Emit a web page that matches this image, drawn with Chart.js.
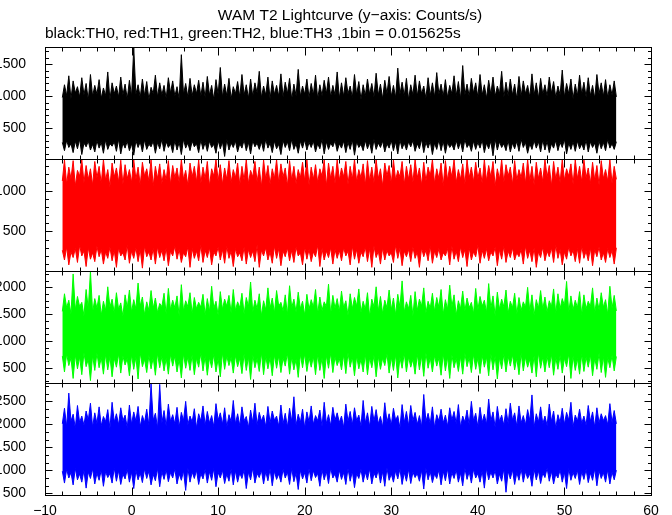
<!DOCTYPE html>
<html>
<head>
	<title>WAM T2 Lightcurve</title>
	<style>
		html, body {
			margin: 0;
			padding: 0;
			background: #fff;
		}
		#app {
			width: 672px;
			height: 515px;
		}
	</style>
</head>
<body>

	<div id="app">
		<canvas id="wamCanvas" width="672" height="515"></canvas>
	</div>

	<script src="https://cdn.jsdelivr.net/npm/chart.js@4.4.1/dist/chart.umd.min.js"></script>
	<script>
		// bins: start time, width (s) -- envelope of the 1/64 s light curve
		var binStart = -8;
		var binWidth = 0.25;

		var xTicks = [-10, 0, 10, 20, 30, 40, 50, 60];

		// TH0 (black)
		var th0High = [
			980,1180,1010,1320,960,1240,1050,1150,990,1290,1020,1200,940,1340,1000,1170,
			1030,1260,970,1130,1010,1380,950,1210,1040,1160,990,1300,1020,1190,960,1250,
			1000,1760,1030,1180,980,1270,1010,1230,950,1140,1040,1330,990,1210,1020,1170,
			970,1290,1050,1240,1000,1150,960,1650,1030,1200,990,1280,1010,1180,1040,1250,
			1000,1220,980,1310,1020,1170,950,1260,1030,1450,990,1190,1010,1280,960,1150,
			1040,1230,990,1340,1020,1180,970,1270,1000,1210,1050,1390,980,1160,1020,1300,
			960,1240,1030,1170,1000,1350,990,1220,1040,1280,950,1190,1010,1420,1000,1160,
			1030,1270,980,1200,1020,1330,960,1180,1010,1250,1040,1300,990,1170,1020,1380,
			970,1210,1000,1290,1040,1160,980,1340,1020,1230,950,1180,1010,1270,1030,1200,
			990,1360,1020,1190,960,1250,1040,1310,1000,1170,980,1440,1030,1220,1010,1280,
			950,1180,1020,1330,1000,1240,1040,1160,970,1290,1010,1210,990,1370,1030,1190,
			1000,1260,980,1170,1040,1320,1010,1230,960,1480,1020,1190,1000,1280,1050,1210,
			990,1340,1020,1180,970,1250,1030,1300,1000,1160,1040,1390,980,1220,1010,1270,
			1020,1190,960,1310,1000,1240,1040,1170,990,1350,1020,1210,970,1280,1030,1180,
			1000,1300,1050,1230,980,1160,1020,1410,990,1200,1040,1270,960,1190,1010,1330,
			1030,1220,990,1290,1010,1170,970,1340,1040,1210,1000,1260,980,1180,1020,1240,
			990
		];
		var th0Low = [
			280,150,310,200,260,120,300,180,330,90,270,210,300,160,250,130,
			310,190,280,110,320,170,260,220,290,140,330,100,270,190,300,150,
			260,80,310,200,290,130,320,170,250,210,300,110,280,180,330,140,
			290,200,260,120,310,160,280,90,330,190,270,150,300,210,260,120,
			320,170,280,140,300,200,250,110,310,180,290,60,330,160,270,200,
			300,130,260,190,320,150,280,100,310,210,270,170,290,140,330,190,
			270,120,300,180,250,90,310,200,290,150,330,170,260,110,300,190,
			320,160,280,200,300,130,260,180,330,100,290,170,270,210,310,140,
			260,190,300,120,280,170,320,80,290,200,250,150,310,180,280,110,
			330,170,270,200,300,130,260,190,310,150,290,100,320,180,270,160,
			290,210,310,140,260,180,330,120,280,190,300,90,270,170,320,150,
			300,110,280,200,250,160,310,180,290,130,330,200,260,140,300,170,
			280,190,320,120,270,180,300,70,330,160,290,200,260,150,310,130,
			270,180,300,140,330,200,280,110,260,170,310,190,290,130,320,160,
			300,120,260,190,310,150,280,200,330,100,270,170,290,140,300,180,
			260,160,320,130,290,200,270,110,300,180,280,150,330,190,260,170,
			290
		];

		// TH1 (red)
		var th1High = [
			1120,1380,1080,1290,1150,1370,1060,1250,1180,1385,1100,1310,1140,1270,1070,1360,
			1160,1300,1090,1385,1130,1260,1050,1340,1170,1280,1110,1375,1080,1320,1150,1260,
			1100,1385,1140,1290,1070,1350,1180,1270,1120,1380,1060,1300,1150,1330,1090,1260,
			1130,1370,1080,1310,1160,1280,1100,1385,1140,1250,1070,1340,1170,1300,1110,1380,
			1090,1290,1150,1360,1060,1270,1180,1385,1120,1320,1080,1280,1140,1370,1100,1260,
			1160,1340,1070,1300,1130,1385,1090,1250,1170,1360,1110,1290,1050,1380,1140,1310,
			1080,1270,1150,1385,1100,1330,1170,1280,1060,1370,1130,1300,1090,1260,1160,1350,
			1120,1385,1070,1290,1140,1320,1100,1270,1180,1380,1060,1340,1150,1300,1090,1385,
			1130,1280,1170,1360,1080,1300,1140,1385,1110,1260,1160,1330,1070,1370,1120,1290,
			1100,1385,1150,1270,1060,1340,1180,1310,1090,1380,1130,1250,1170,1360,1080,1300,
			1140,1320,1100,1385,1160,1280,1070,1350,1120,1290,1180,1385,1090,1270,1150,1340,
			1060,1370,1130,1300,1170,1385,1100,1260,1140,1330,1080,1380,1160,1290,1110,1350,
			1150,1280,1090,1385,1120,1310,1170,1360,1060,1270,1140,1385,1100,1320,1180,1290,
			1080,1370,1130,1260,1160,1340,1090,1385,1120,1300,1070,1350,1150,1280,1110,1385,
			1170,1310,1060,1360,1140,1290,1100,1385,1130,1270,1180,1330,1080,1380,1150,1300,
			1110,1385,1160,1280,1090,1350,1130,1310,1070,1370,1150,1260,1120,1385,1090,1300,
			1140
		];
		var th1Low = [
			270,150,310,90,250,180,290,120,330,200,260,70,300,160,240,130,
			320,190,280,100,250,170,310,140,270,60,300,200,240,150,330,110,
			260,170,300,130,280,50,320,190,250,150,290,100,310,180,270,140,
			300,80,260,200,320,160,280,120,240,190,310,60,290,170,260,140,
			330,120,270,180,300,90,250,200,310,150,280,110,320,170,260,70,
			290,190,240,140,310,100,280,180,260,130,330,60,270,200,300,150,
			250,110,320,170,290,80,260,190,300,140,270,120,310,200,240,90,
			310,160,280,130,250,190,330,70,290,150,260,180,300,100,280,170,
			270,140,300,200,260,90,320,160,280,110,250,190,310,130,290,60,
			320,180,260,100,300,150,270,200,240,120,330,170,290,80,260,190,
			280,130,310,170,250,60,300,190,270,140,320,110,260,180,290,150,
			240,200,290,90,320,160,260,130,310,180,280,70,300,150,250,190,
			330,110,270,170,290,140,250,200,310,80,280,160,320,120,260,180,
			300,150,240,190,280,100,320,170,270,130,300,60,250,180,310,140,
			260,190,300,120,330,170,280,90,250,160,310,200,270,130,290,110,
			320,170,260,140,300,80,280,190,310,150,240,120,290,180,270,100,
			300
		];

		// TH2 (green)
		var th2High = [
			1550,1880,1620,1760,1500,2250,1580,1830,1640,1720,1470,1960,1600,2300,1530,1790,
			1610,1850,1480,1740,1570,2010,1630,1780,1520,1900,1590,1710,1460,1860,1620,1950,
			1540,1770,1600,2080,1650,1820,1490,1730,1570,1940,1610,1800,1530,1700,1640,1890,
			1500,1980,1580,1760,1620,1840,1470,2050,1560,1750,1640,1900,1510,1810,1600,1720,
			1630,1870,1490,1790,1550,2020,1610,1740,1480,1920,1590,1780,1650,1850,1520,1960,
			1570,1730,1620,1890,1500,1810,1640,2100,1540,1760,1600,1880,1470,1750,1580,1990,
			1610,1800,1520,1940,1650,1720,1560,1860,1490,2030,1620,1780,1540,1910,1600,1740,
			1480,1870,1590,1770,1630,1960,1510,1820,1570,1730,1640,2060,1500,1850,1610,1790,
			1550,1930,1620,1750,1480,1880,1600,1810,1650,1970,1530,1740,1590,1900,1460,1780,
			1640,2010,1560,1830,1510,1760,1620,1950,1580,1800,1490,1870,1630,2120,1540,1730,
			1600,1850,1470,1920,1570,1780,1650,1990,1520,1740,1610,1890,1550,1810,1630,1960,
			1500,1770,1590,2040,1640,1860,1480,1750,1600,1930,1560,1800,1620,1720,1510,1980,
			1580,1830,1650,1760,1530,2070,1610,1840,1470,1910,1590,1780,1640,1950,1520,1740,
			1620,1890,1500,1810,1570,1730,1630,2000,1550,1860,1480,1770,1610,1940,1590,1820,
			1540,1750,1640,1970,1510,1880,1600,1790,1660,2110,1530,1840,1580,1760,1620,1920,
			1490,1860,1600,1740,1640,1990,1520,1800,1580,1900,1630,1770,1500,2020,1610,1850,
			1560
		];
		var th2Low = [
			720,420,760,540,680,300,740,480,700,370,780,520,660,260,730,450,
			770,500,690,380,750,460,710,330,680,510,760,400,720,550,670,350,
			740,470,700,290,780,520,660,410,730,480,690,360,770,500,710,440,
			680,380,750,530,720,420,660,310,760,490,700,450,740,370,680,510,
			770,440,710,360,690,500,750,420,670,330,780,470,720,540,690,400,
			730,520,680,390,760,450,700,280,740,500,670,430,780,370,710,480,
			690,350,740,490,720,410,680,530,770,380,700,460,660,320,750,500,
			760,430,690,510,710,370,750,450,680,300,730,490,770,410,700,540,
			670,460,740,390,780,510,700,350,720,480,660,420,750,370,690,500,
			730,330,710,470,680,540,760,400,700,450,740,310,690,490,770,420,
			700,510,660,380,750,460,720,340,780,490,690,420,730,530,680,360,
			760,440,700,300,740,500,670,430,710,380,770,520,690,410,750,470,
			680,390,730,510,700,350,760,460,720,290,690,480,750,420,710,530,
			740,460,680,370,770,440,700,510,660,400,730,330,780,490,700,420,
			710,500,750,360,690,470,730,400,680,520,760,300,720,450,670,380,
			750,430,700,510,740,350,680,470,770,410,710,320,690,500,730,440,
			710
		];

		// TH3 (blue)
		var th3High = [
			2010,2350,1950,2680,2070,2220,1920,2410,2040,2180,1980,2290,2090,2460,1940,2250,
			2020,2380,1970,2170,2060,2320,1910,2480,2050,2230,1990,2360,2080,2200,1930,2420,
			2000,2270,2070,2390,1950,2190,2040,2330,1980,2880,2090,2240,1920,2870,2030,2300,
			1960,2440,2060,2210,2010,2370,1940,2260,2080,2500,1990,2180,2050,2340,1920,2230,
			2070,2400,1980,2280,2030,2190,1950,2450,2090,2250,2000,2360,1940,2210,2060,2520,
			2010,2230,1970,2380,2080,2170,1930,2310,2040,2460,1990,2260,2070,2200,1950,2390,
			2030,2290,2090,2180,1960,2420,2010,2240,1940,2350,2060,2600,1980,2220,2040,2330,
			1920,2270,2050,2400,2000,2190,2080,2310,1950,2480,2020,2210,1970,2370,2090,2250,
			2040,2180,1930,2440,2060,2280,1990,2360,2080,2200,1960,2520,2030,2250,1950,2390,
			2070,2320,2010,2170,1940,2470,2050,2230,1980,2350,2090,2190,1920,2430,2040,2280,
			1970,2410,2080,2260,2000,2190,1950,2650,2060,2240,2010,2380,1930,2210,2070,2330,
			2030,2200,1960,2360,2090,2280,2020,2430,1940,2180,2050,2310,1990,2500,2080,2240,
			1950,2370,2040,2220,2000,2550,2070,2270,1930,2390,2060,2200,1980,2340,2020,2460,
			2090,2250,1960,2400,2030,2190,1990,2320,2080,2640,1940,2230,2050,2380,2010,2180,
			1970,2440,2060,2290,1920,2210,2040,2350,2000,2260,2090,2480,1950,2200,2070,2330,
			2020,2180,1980,2410,2060,2270,1940,2360,2030,2230,2080,2190,1990,2450,2040,2300,
			2010
		];
		var th3Low = [
			980,720,1020,830,950,680,1040,790,920,740,1000,610,960,820,1030,700,
			940,780,1010,650,970,840,930,720,1050,760,990,690,920,810,1020,740,
			960,600,1000,790,940,730,1030,820,980,680,910,770,1040,640,970,800,
			1010,750,950,830,1030,700,920,780,990,560,1050,740,960,820,1000,690,
			930,810,1020,720,970,780,1040,640,950,830,1000,710,920,760,1030,680,
			990,740,940,820,1010,600,960,790,1050,720,930,840,1000,700,970,770,
			1030,660,980,800,920,740,1020,830,960,690,1040,750,940,580,1000,810,
			950,720,1030,770,990,840,930,650,1010,790,970,710,1050,830,920,740,
			1000,800,950,690,1040,760,980,620,930,820,1020,740,960,790,1030,700,
			940,830,1010,720,970,650,1050,780,920,740,990,810,1030,690,950,760,
			1020,710,960,840,930,760,1000,590,1040,790,970,730,920,820,1010,680,
			980,770,1030,700,950,820,1010,740,940,660,1050,800,970,720,1020,830,
			930,740,990,610,1040,790,960,830,1000,700,920,760,1030,520,980,810,
			1010,690,950,780,1030,740,970,820,930,650,1020,790,990,710,940,840,
			1050,760,980,700,920,830,1010,740,960,600,1040,780,950,820,1000,690,
			970,800,1020,730,940,780,1030,660,990,820,950,740,1010,700,960,790,
			1000
		];

		// panels, listed bottom to top (Chart.js places the last stacked axis on top)
		var panelIds = ['yTH3', 'yTH2', 'yTH1', 'yTH0'];
		var panelColors = ['#0000ff', '#00ff00', '#ff0000', '#000000'];
		var panelHigh = [th3High, th2High, th1High, th0High];
		var panelLow = [th3Low, th2Low, th1Low, th0Low];
		var panelMin = [460, 215, 15, 20];
		var panelMax = [2900, 2305, 1390, 1770];
		var panelTicks = [
			[500, 1000, 1500, 2000, 2500],
			[500, 1000, 1500, 2000],
			[500, 1000],
			[500, 1000, 1500]
		];
		var panelMinorDiv = [3, 4, 5, 5];

		var FONT = '"Liberation Sans", Arial, Helvetica, sans-serif';

		var toPoints = function (arr) {
			return arr.map(function (v, i) { return {x: binStart + i * binWidth, y: v}; });
		};

		var ds = [];
		var scales = {
			x: {
				type: 'linear',
				position: 'bottom',
				min: -10,
				max: 60,
				grid: {display: false},
				border: {display: false},
				afterBuildTicks: function (scale) {
					scale.ticks = xTicks.map(function (v) { return {value: v}; });
				},
				afterFit: function (scale) { scale.height = 20; },
				ticks: {
					color: '#000',
					padding: 0,
					autoSkip: false,
					maxRotation: 0,
					font: {family: FONT, size: 14},
					callback: function (v) { return String(v).replace('-', '\u2212'); }
				}
			}
		};

		panelIds.forEach(function (id, p) {
			ds.push({
				label: id + ' low',
				yAxisID: id,
				data: toPoints(panelLow[p]),
				borderColor: panelColors[p],
				backgroundColor: panelColors[p],
				borderWidth: 1,
				pointRadius: 0,
				tension: 0,
				fill: false
			});
			ds.push({
				label: id + ' high',
				yAxisID: id,
				data: toPoints(panelHigh[p]),
				borderColor: panelColors[p],
				backgroundColor: panelColors[p],
				borderWidth: 1,
				pointRadius: 0,
				tension: 0,
				fill: '-1'
			});
			scales[id] = {
				type: 'linear',
				position: 'left',
				stack: 'wam',
				stackWeight: 1,
				min: panelMin[p],
				max: panelMax[p],
				grid: {display: false},
				border: {display: false},
				afterBuildTicks: function (scale) {
					scale.ticks = panelTicks[p].map(function (v) { return {value: v}; });
				},
				afterFit: function (scale) { scale.width = 45; },
				ticks: {
					color: '#000',
					padding: 11,
					autoSkip: false,
					font: {family: FONT, size: 14},
					callback: function (v) { return String(v); }
				}
			};
		});

		// boxes + inward ticks like the original plot, plus the two title lines
		var frameTicks = {
			id: 'frameTicks',
			afterDraw: function (chart) {
				var ctx = chart.ctx;
				var xs = chart.scales.x;
				var a = chart.chartArea;
				var line = function (x1, y1, x2, y2) {
					ctx.beginPath(); ctx.moveTo(x1, y1); ctx.lineTo(x2, y2); ctx.stroke();
				};
				ctx.save();
				ctx.strokeStyle = '#000';
				ctx.lineWidth = 1;
				panelIds.forEach(function (id, p) {
					var ys = chart.scales[id];
					var top = Math.round(ys.top) + 0.5;
					var bot = Math.round(ys.bottom) + 0.5;
					var left = Math.round(a.left) + 0.5;
					var right = Math.round(a.right) + 0.5;
					ctx.strokeRect(left, top, right - left, bot - top);
					for (var v = xs.min; v <= xs.max; v += 2) {
						var px = Math.round(xs.getPixelForValue(v)) + 0.5;
						var len = (v % 10 === 0) ? 8 : 4;
						line(px, top, px, top + len);
						line(px, bot, px, bot - len);
					}
					var step = 500 / panelMinorDiv[p];
					for (var k = Math.ceil(ys.min / step); k * step <= ys.max; k++) {
						var yv = k * step;
						var py = Math.round(ys.getPixelForValue(yv)) + 0.5;
						var major = (k % panelMinorDiv[p] === 0);
						var ln = major ? 7 : 3.5;
						line(left, py, left + ln, py);
						line(right, py, right - ln, py);
					}
				});
				ctx.fillStyle = '#000';
				ctx.font = '15.5px ' + FONT;
				ctx.textBaseline = 'middle';
				ctx.textAlign = 'center';
				ctx.fillText('WAM T2 Lightcurve (y\u2212axis: Counts/s)', (a.left + a.right) / 2 + 2, 16);
				ctx.textAlign = 'left';
				ctx.fillText('black:TH0, red:TH1, green:TH2, blue:TH3 ,1bin = 0.015625s', a.left, 34);
				ctx.restore();
			}
		};

		var ctx = document.getElementById('wamCanvas').getContext('2d');
		var wamChart = new Chart(ctx, {
			type: 'line',
			data: {datasets: ds},
			options: {
				responsive: false,
				animation: false,
				layout: {padding: {top: 47, right: 21, left: 0, bottom: 0}},
				plugins: {
					legend: {display: false},
					tooltip: {enabled: false}
				},
				scales: scales
			},
			plugins: [frameTicks]
		});
	</script>
</body>
</html>
